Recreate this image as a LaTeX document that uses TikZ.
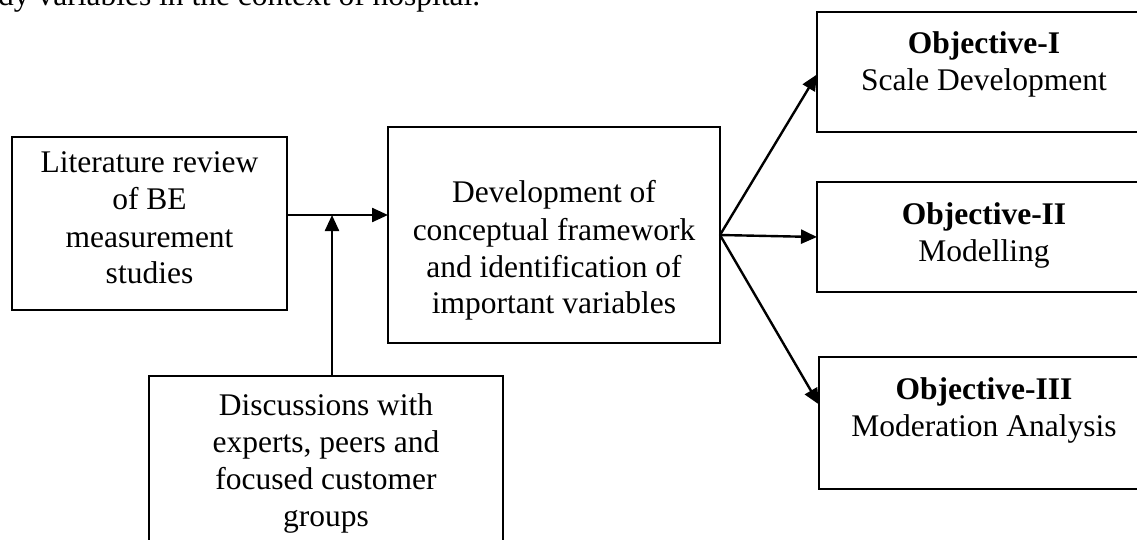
\documentclass[tikz,border=0pt]{standalone}
\usepackage{fontspec}
\setmainfont{Liberation Serif}
\usetikzlibrary{arrows.meta,calc}
% centred stack of lines whose baseline is the first line's
\newcommand{\mylines}[1]{\begin{tabular}[t]{@{}c@{}}#1\end{tabular}}
\begin{document}
\begin{tikzpicture}[x=1pt,y=-1pt,
  box/.style={draw, line width=2pt, rectangle, inner sep=0pt, outer sep=0pt},
  txt/.style={inner sep=0pt, anchor=base, font=\fontsize{31.5}{37}\selectfont},
  arr/.style={line width=2.4pt, -{Triangle[length=16pt,width=14pt]}}]
\useasboundingbox (0,0) rectangle (1137,540);

% running text above the figure
\node[txt, anchor=base west] (caption) at (-2,6) {dy variables in the context of hospital.};

% boxes
\node[box, minimum width=275pt, minimum height=173pt] (lit) at (149.5,223.5) {};
\node[box, minimum width=332pt, minimum height=216pt] (mid) at (554,235) {};
\node[box, minimum width=354pt, minimum height=184pt] (disc) at (326,468) {};
\node[box, minimum width=333pt, minimum height=120pt] (obj1) at (983.5,72) {};
\node[box, minimum width=333pt, minimum height=110pt] (obj2) at (983.5,237) {};
\node[box, minimum width=331pt, minimum height=132pt] (obj3) at (984.5,423) {};

% box texts
\node[txt] (litT) at (149.5,173) {\mylines{Literature review\\ of BE\\ measurement\\ studies}};
\node[txt] (midT) at (554,203) {\mylines{Development of\\ conceptual framework\\ and identification of\\ important variables}};
\node[txt] (discT) at (326,415) {\mylines{Discussions with\\ experts, peers and\\ focused customer\\ groups}};
\node[txt] (obj1T) at (984,54) {\mylines{\textbf{Objective-I}\\ Scale Development}};
\node[txt] (obj2T) at (984,224) {\mylines{\textbf{Objective-II}\\ Modelling}};
\node[txt] (obj3T) at (984,399) {\mylines{\textbf{Objective-III}\\ Moderation Analysis}};

% connectors
\coordinate (join) at (332,215);
\draw[arr] (lit.east |- join) -- (mid.west |- join);
\draw[arr] (disc.north -| join) -- (join);
\draw[arr] (mid.east) -- ($(obj1.north west)!0.52!(obj1.south west)$);
\draw[arr] (mid.east) -- (obj2.west);
\draw[arr] (mid.east) -- ($(obj3.north west)!0.36!(obj3.south west)$);
\end{tikzpicture}
\end{document}
